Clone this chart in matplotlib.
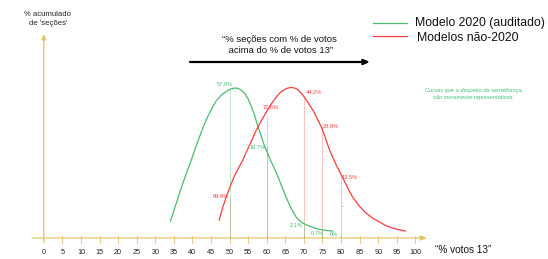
import matplotlib
matplotlib.use("Agg")
import matplotlib.pyplot as plt
from matplotlib.lines import Line2D

plt.rcParams["font.family"] = ["Liberation Sans", "DejaVu Sans"]

GRN = "#45c06e"
RED = "#ff3c3c"
AXC = "#e7bf5c"
TKC = "#ead08c"

# curves (x = % votos 13, y = height above the axis)
green_x = [34.1, 35.5, 36.8, 38.2, 39.7, 40.8, 41.9, 43.0, 44.2, 45.3, 46.4,
           47.8, 49.3, 50.3, 51.3, 52.2, 53.0, 54.0, 55.0, 55.9, 56.7, 57.5,
           58.5, 59.4, 60.2, 61.0, 62.6, 63.9, 65.2, 66.5, 67.9, 68.8, 69.7,
           71.0, 72.4, 73.7, 75.1, 76.5, 77.8]
green_y = [17, 33, 48, 63, 78, 90, 101, 112, 122, 130, 137,
           143, 147, 149, 150, 149.6, 148.3, 145, 139, 131, 123, 113,
           102, 92, 85, 78, 65, 53, 41, 30, 21, 17.5, 15,
           12.5, 10.7, 9.2, 8, 7.3, 7]
red_x = [47.2, 48.1, 49.1, 50.2, 51.3, 52.4, 53.6, 54.5, 55.4, 56.3, 57.2,
         58.5, 59.9, 61.2, 62.6, 63.5, 64.5, 65.5, 66.6, 67.5, 68.3, 69.0,
         69.7, 71.0, 72.4, 73.5, 74.7, 75.8, 76.9, 78.7, 80.5, 81.8, 83.1,
         84.9, 86.7, 88.5, 90.3, 92.0, 93.8, 95.5, 97.3]
red_y = [18, 30, 41, 52, 62, 70, 78, 86, 93, 100.5, 108,
         117, 126, 134, 141, 145, 148, 149.8, 150.5, 150, 148.5, 146,
         143, 136, 128, 120, 111, 100, 88, 73, 60, 50, 41,
         32, 25, 20, 16, 12.5, 10, 8.3, 7]

marks = [50, 60, 70, 75, 80]
red_marks_y = [41, 121, 142, 111, 61]
green_marks_y = [148, 91, 15, 8, 0]
red_labels = ["89,9%", "72,6%", "44,2%", "28,9%", "13,5%"]
green_labels = ["57,9%", "16,7%", "2,1%", "0,7%", "0%"]

ticks = list(range(0, 101, 5))

fig = plt.figure(figsize=(5.48, 2.59), dpi=100)
ax = fig.add_axes([0, 0, 1, 1])
ax.set_xlim(-11.79, 135.7)
ax.set_ylim(-21, 238)
ax.axis("off")

# axes
ax.annotate("", xy=(103.0, 0), xytext=(-3.2, 0),
            arrowprops=dict(arrowstyle="-|>,head_length=0.35,head_width=0.15",
                            color=AXC, lw=0.8, shrinkA=0, shrinkB=0))
ax.annotate("", xy=(0, 204), xytext=(0, -5),
            arrowprops=dict(arrowstyle="-|>,head_length=0.3,head_width=0.12",
                            color=AXC, lw=0.9, shrinkA=0, shrinkB=0))
for t in ticks[1:]:
    ax.plot([t, t], [-5, 2], color=TKC, lw=0.8)
for t in ticks:
    ax.text(t, -15, str(t), ha="center", va="center", fontsize=5.2,
            color="#222222")

# guide lines
for x, ry, gy in zip(marks, red_marks_y, green_marks_y):
    ax.plot([x, x], [0, ry], color=RED, lw=0.7, alpha=0.3)
    if gy > 0:
        ax.plot([x, x], [0, gy], color=GRN, lw=0.7, alpha=0.35)

ax.plot(green_x, green_y, color=GRN, lw=0.9, solid_joinstyle="round")
ax.plot(red_x, red_y, color=RED, lw=0.9, solid_joinstyle="round")

# value labels
red_pos = [(50 - 0.3, 42, "right"), (60 - 1.1, 131, "left"),
           (70 + 0.6, 146, "left"), (75 + 0.1, 112, "left"),
           (80 + 0.2, 61, "left")]
green_pos = [(48.6, 154, "center"), (60 - 0.3, 91, "right"),
             (70 - 0.3, 13, "right"), (75.3, 5, "right"),
             (79.2, 4, "right")]
for lab, (x, y, ha) in zip(red_labels, red_pos):
    ax.text(x, y, lab, ha=ha, va="center", fontsize=4.1, color=RED)
for lab, (x, y, ha) in zip(green_labels, green_pos):
    ax.text(x, y, lab, ha=ha, va="center", fontsize=4.1, color=GRN)
ax.text(80.5, 31, "-", ha="center", va="center", fontsize=3.5, color="#555555")

# texts
fig.text(48 / 548, 1 - 19 / 259, "% acumulado\nde 'seções'", ha="center",
         va="center", fontsize=5.6, linespacing=1.3, color="#222222")
fig.text(435 / 548, 1 - 250 / 259, "“% votos 13”", ha="left", va="center",
         fontsize=7.2, color="#111111")
fig.text(279 / 548, 1 - 45 / 259,
         "“% seções com % de votos\n acima do % de votos 13”",
         ha="center", va="center", fontsize=6.8, linespacing=1.15,
         color="#111111")
ax.annotate("", xy=(370 / 548, 1 - 62 / 259), xytext=(190 / 548, 1 - 62 / 259),
            xycoords="figure fraction", textcoords="figure fraction",
            arrowprops=dict(arrowstyle="-|>,head_length=0.35,head_width=0.15",
                            color="black", lw=1.6, shrinkA=0, shrinkB=0))
fig.text(474 / 548, 1 - 94 / 259,
         "Curvas que a despeito da semelhança,\nsão meramente representativas.",
         ha="center", va="center", fontsize=4.1, style="italic",
         linespacing=1.3, color=GRN)

# legend
fig.add_artist(Line2D([373 / 548, 407 / 548], [1 - 23 / 259, 1 - 23 / 259],
                      color=GRN, lw=0.9))
fig.add_artist(Line2D([373 / 548, 407 / 548], [1 - 36 / 259, 1 - 36 / 259],
                      color=RED, lw=0.9))
fig.text(415 / 548, 1 - 23 / 259, "Modelo 2020 (auditado)", ha="left",
         va="center", fontsize=8.8, color="#111111")
fig.text(417 / 548, 1 - 38 / 259, "Modelos não-2020", ha="left",
         va="center", fontsize=8.8, color="#111111")

fig.savefig("out.png", dpi=100, facecolor="white")
